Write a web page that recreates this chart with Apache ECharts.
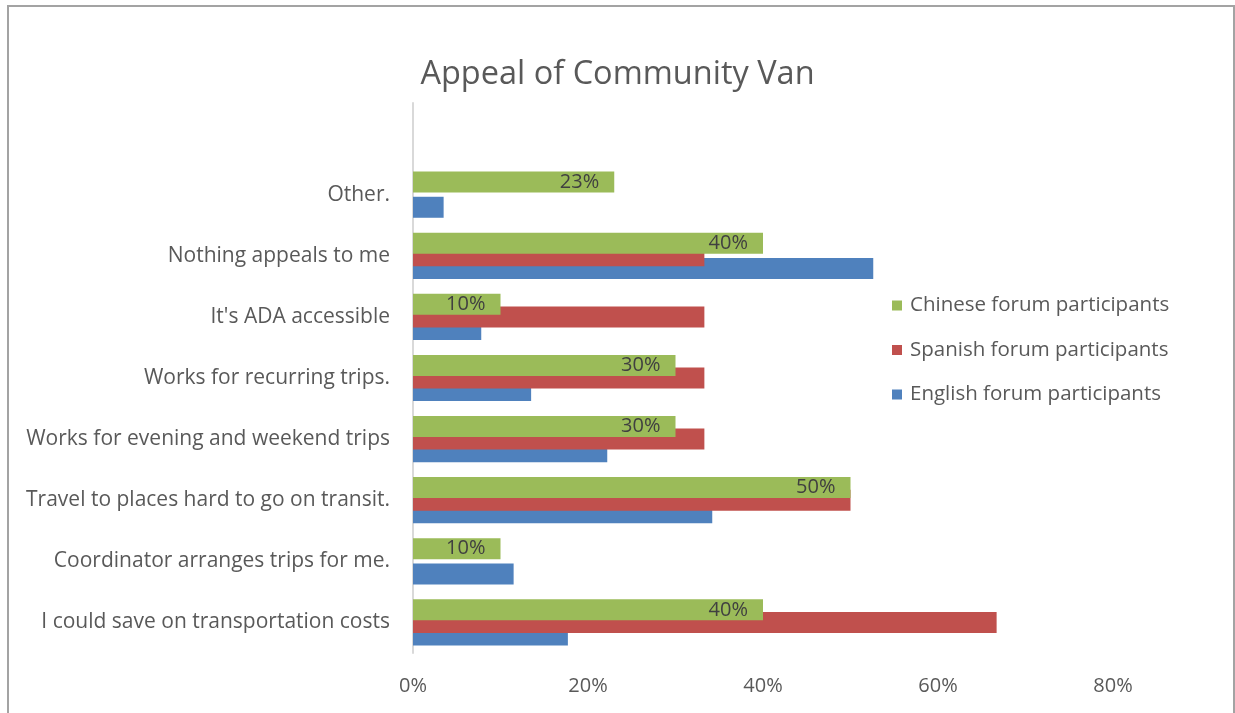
<!DOCTYPE html>
<html>
<head>
<meta charset="utf-8">
<script src="https://cdn.jsdelivr.net/npm/echarts@6/dist/echarts.min.js"></script>
<style>
html,body{margin:0;padding:0;background:#fff;}
#chart{position:absolute;left:0;top:0;width:1235px;height:713px;}
#frame{position:absolute;left:7px;top:5px;width:1224px;height:730px;border:2px solid #a3a3a3;pointer-events:none;}
</style>
</head>
<body>
<div id="chart"></div>
<div id="frame"></div>
<script>
// Categories listed bottom to top; the final blank row is the empty top band in the original
const categories = [
  'I could save on transportation costs',
  'Coordinator arranges trips for me.',
  'Travel to places hard to go on transit.',
  'Works for evening and weekend trips',
  'Works for recurring trips.',
  "It's ADA accessible",
  'Nothing appeals to me',
  'Other.',
  ''
];
const englishValues = [17.7, 11.5, 34.2, 22.2, 13.5, 7.8, 52.6, 3.5, null];
const spanishValues = [66.7, 0, 50, 33.3, 33.3, 33.3, 33.3, 0, null];
const chineseValues = [40, 10, 50, 30, 30, 10, 40, 23, null];
const seriesNames = ['Chinese forum participants', 'Spanish forum participants', 'English forum participants'];
const xTicks = [0, 20, 40, 60, 80];

const FONT = 'Open Sans';
const chart = echarts.init(document.getElementById('chart'), null, {renderer: 'canvas'});
chart.setOption({
  animation: false,
  backgroundColor: '#ffffff',
  textStyle: {fontFamily: FONT},
  title: {
    text: 'Appeal of Community Van',
    left: 'center',
    top: 53,
    textStyle: {fontFamily: FONT, fontSize: 32.5, fontWeight: 'normal', color: '#595959'}
  },
  legend: {
    data: seriesNames,
    orient: 'vertical',
    left: 887,
    top: 290,
    icon: 'rect',
    itemWidth: 10,
    itemHeight: 10,
    itemGap: 23.5,
    textStyle: {fontFamily: FONT, fontSize: 20.5, color: '#595959', padding: [0, 0, 0, 3]}
  },
  grid: {left: 413, right: 122, top: 103, bottom: 60, containLabel: false},
  xAxis: {
    type: 'value',
    min: xTicks[0],
    max: xTicks[xTicks.length - 1],
    interval: 20,
    axisLine: {show: false},
    axisTick: {show: false},
    splitLine: {show: false},
    axisLabel: {formatter: '{value}%', fontFamily: FONT, fontSize: 20, color: '#595959', margin: 23}
  },
  yAxis: {
    type: 'category',
    data: categories,
    axisLine: {show: true, lineStyle: {color: '#d9d9d9', width: 2}},
    axisTick: {show: false},
    axisLabel: {fontFamily: FONT, fontSize: 21, color: '#595959', margin: 23}
  },
  series: [
    {
      name: seriesNames[0], type: 'bar', data: chineseValues,
      barWidth: 21, barGap: '-40%',
      itemStyle: {color: '#9BBB59'}, z: 4,
      label: {
        show: true, position: 'insideRight', distance: 15,
        formatter: p => (p.value == null ? '' : p.value + '%'),
        fontFamily: FONT, fontSize: 20, color: '#404040'
      }
    },
    {
      name: seriesNames[1], type: 'bar', data: spanishValues,
      barWidth: 21, barGap: '-40%',
      itemStyle: {color: '#C0504D'}, z: 3
    },
    {
      name: seriesNames[2], type: 'bar', data: englishValues,
      barWidth: 21, barGap: '-40%',
      itemStyle: {color: '#4F81BD'}, z: 2
    }
  ]
});
</script>
</body>
</html>
